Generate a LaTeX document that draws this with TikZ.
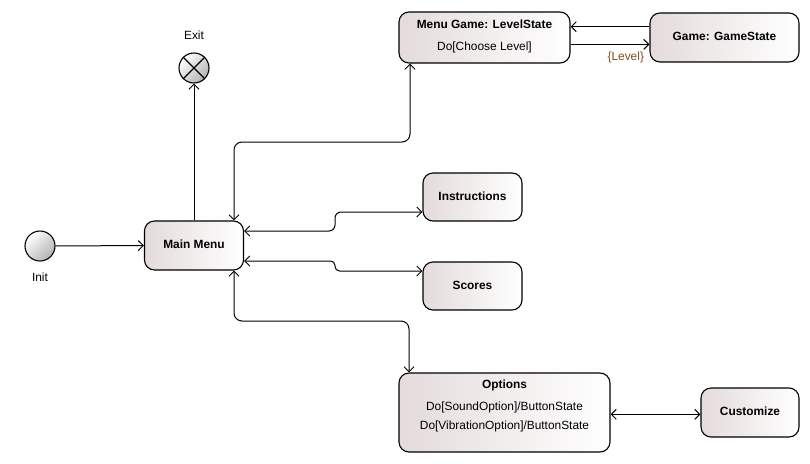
\documentclass[tikz,border=0pt]{standalone}
\usepackage{fontspec}
\setmainfont{Liberation Sans}
\usetikzlibrary{arrows.meta,calc}
\definecolor{boxl}{RGB}{228,219,219}
\definecolor{lblc}{RGB}{128,78,30}
\tikzset{
  statebox/.style={draw=black, line width=1.1pt, rounded corners=10pt, left color=boxl, right color=white, inner sep=0pt},
  pseudo/.style={circle, draw=black, line width=1.1pt, minimum size=30pt, inner sep=0pt, top color=white, bottom color=black!30, shading angle=45},
  txt/.style={inner sep=0pt, text height=8.6pt, text depth=2.4pt, font=\fontsize{11.9}{14}\selectfont},
  btxt/.style={txt, font=\fontsize{11.9}{14}\selectfont\bfseries},
  conn/.style={line width=1pt, draw=black},
  barb/.tip={Straight Barb[length=5pt, width=10pt, line width=1pt]},
}
\begin{document}
\begin{tikzpicture}[x=1pt, y=-1pt]
\useasboundingbox (0,0) rectangle (810,463);

% states
\node[pseudo] (init) at (40,246) {};
\node[txt] (initl) at (40,278) {Init};
\node[pseudo] (exit) at (194,68) {};
\draw[line width=1.1pt] (exit.north west) -- (exit.south east) (exit.north east) -- (exit.south west);
\node[txt] (exitl) at (194,36) {Exit};

\node[statebox, minimum width=99pt, minimum height=49pt] (mm) at (194,245.5) {};
\node[btxt] at (mm.center) {Main Menu};

\node[statebox, minimum width=171pt, minimum height=51pt] (lvl) at (484.5,37.5) {};
\node[btxt] (lvlt) at (484.5,25) {Menu Game: LevelState};
\node[txt] (lvld) at (484.5,47) {Do[Choose Level]};

\node[statebox, minimum width=149pt, minimum height=49pt] (game) at (724.5,37.5) {};
\node[btxt] at (game.center) {Game: GameState};

\node[statebox, minimum width=99pt, minimum height=48pt] (ins) at (472.5,197) {};
\node[btxt] at (ins.center) {Instructions};

\node[statebox, minimum width=99pt, minimum height=48pt] (sco) at (472.5,286) {};
\node[btxt] at (sco.center) {Scores};

\node[statebox, minimum width=211pt, minimum height=79pt] (opt) at (504.5,412.5) {};
\node[btxt] (optt) at (504.5,385) {Options};
\node[txt] (opt1) at (504.5,407) {Do[SoundOption]/ButtonState};
\node[txt] (opt2) at (504.5,426) {Do[VibrationOption]/ButtonState};

\node[statebox, minimum width=98pt, minimum height=49pt] (cus) at (750,412.5) {};
\node[btxt] at (cus.center) {Customize};

% connectors
\draw[conn, -{barb}] (init.east) -- (mm.west);
\draw[conn, -{barb}] (mm.north) -- (exit.south);

\draw[conn, {barb}-{barb}, rounded corners=8pt] ([xshift=40pt]mm.north) |- (322,142) -| ([xshift=-74.5pt]lvl.south);
\draw[conn, {barb}-{barb}, rounded corners=8pt] ([xshift=40pt]mm.south) |- (322,321) -| ([xshift=-95.5pt]opt.north);

\draw[conn, {barb}-{barb}, rounded corners=6pt] ([yshift=14.5pt]mm.east) -- (335,231) -- (335,212) -- ([yshift=-15pt]ins.west);
\draw[conn, {barb}-{barb}, rounded corners=4.5pt] ([yshift=-15.5pt]mm.east) -- (335,261) -- (335,271) -- ([yshift=15pt]sco.west);

\draw[conn, -{barb}] ([yshift=10.8pt]game.west) -- ([yshift=10.8pt]lvl.east);
\draw[conn, -{barb}] ([yshift=-6.8pt]lvl.east) -- node[txt, text=lblc, below=7pt, pos=0.7] (lvlbl) {\{Level\}} ([yshift=-6.8pt]game.west);

\draw[conn, {barb}-{barb}] ([yshift=-1.8pt]opt.east) -- ([yshift=-1.8pt]cus.west);
\end{tikzpicture}
\end{document}
